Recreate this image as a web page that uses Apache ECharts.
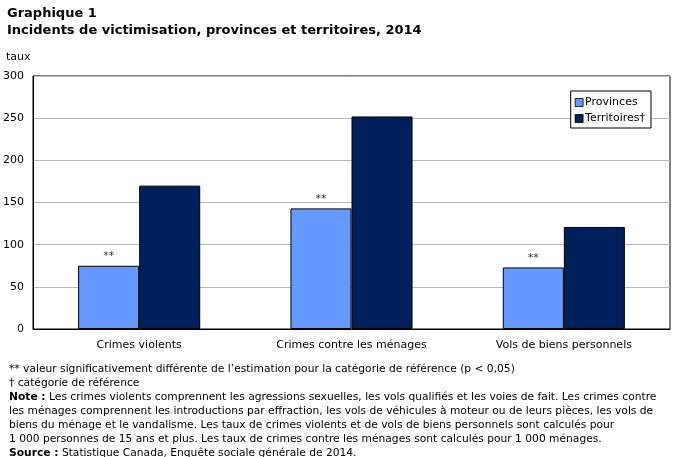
<!DOCTYPE html>
<html>
<head>
<meta charset="utf-8">
<script src="https://cdn.jsdelivr.net/npm/echarts@6/dist/echarts.min.js"></script>
<style>
  html, body { margin: 0; padding: 0; background: #fff; }
  #chart { width: 676px; height: 457px; }
</style>
</head>
<body>
<div id="chart"></div>
<script>
var categories = ['Crimes violents', 'Crimes contre les ménages', 'Vols de biens personnels'];
var provinces = [75, 143, 73];
var territoires = [170, 252, 121];
var yTicks = [0, 50, 100, 150, 200, 250, 300];

var chartDom = document.getElementById('chart');
var myChart = echarts.init(chartDom);
var option;

var fontMain = 'Verdana, "DejaVu Sans", sans-serif';

var notes = [
  '** valeur significativement différente de l\u2019estimation pour la catégorie de référence (p < 0,05)',
  '\u2020 catégorie de référence',
  '{b|Note :} Les crimes violents comprennent les agressions sexuelles, les vols qualifiés et les voies de fait. Les crimes contre',
  'les ménages comprennent les introductions par effraction, les vols de véhicules à moteur ou de leurs pièces, les vols de',
  'biens du ménage et le vandalisme. Les taux de crimes violents et de vols de biens personnels sont calculés pour',
  '1 000 personnes de 15 ans et plus. Les taux de crimes contre les ménages sont calculés pour 1 000 ménages.',
  '{b|Source :} Statistique Canada, Enquête sociale générale de 2014.'
];

option = {
  animation: false,
  textStyle: { fontFamily: fontMain },
  title: [
    {
      text: 'Graphique 1\nIncidents de victimisation, provinces et territoires, 2014',
      left: 7,
      top: 5,
      padding: 0,
      textStyle: { fontSize: 13, fontWeight: 'bold', color: '#000', lineHeight: 17, fontFamily: fontMain }
    },
    {
      text: 'taux',
      left: 6,
      top: 52,
      padding: 0,
      textStyle: { fontSize: 11, fontWeight: 'normal', color: '#000', fontFamily: fontMain }
    },
    {
      text: notes.join('\n'),
      left: 9,
      top: 362,
      padding: 0,
      textStyle: {
        fontSize: 10.7,
        fontWeight: 'normal',
        color: '#000',
        lineHeight: 14,
        fontFamily: fontMain,
        rich: {
          b: { fontWeight: 'bold', fontSize: 10.7, fontFamily: fontMain, color: '#000' }
        }
      }
    }
  ],
  legend: {
    orient: 'vertical',
    right: 25,
    top: 91,
    padding: [6, 6, 4, 4],
    itemGap: 5,
    itemWidth: 8,
    itemHeight: 8,
    borderColor: '#000',
    borderWidth: 1,
    backgroundColor: '#fff',
    icon: 'rect',
    textStyle: { fontSize: 11, color: '#000', padding: [0, 0, 0, -3], fontFamily: fontMain },
    data: [
      { name: 'Provinces', itemStyle: { borderColor: '#000', borderWidth: 0.8 } },
      { name: 'Territoires\u2020', itemStyle: { borderColor: '#000', borderWidth: 0.8 } }
    ]
  },
  grid: {
    left: 33,
    right: 6,
    top: 76,
    bottom: 128,
    show: true,
    borderColor: '#000',
    borderWidth: 1,
    containLabel: false
  },
  xAxis: {
    type: 'category',
    data: categories,
    axisTick: { show: false },
    axisLine: { lineStyle: { color: '#000', width: 1 } },
    axisLabel: { color: '#000', fontSize: 11, margin: 11, fontFamily: fontMain }
  },
  yAxis: {
    type: 'value',
    min: 0,
    max: 300,
    interval: 50,
    axisLine: { show: true, lineStyle: { color: '#000' } },
    axisTick: { show: false },
    axisLabel: {
      color: '#000',
      fontSize: 11,
      margin: 9,
      fontFamily: fontMain,
      formatter: function (v) { return yTicks.indexOf(v) >= 0 ? String(v) : ''; }
    },
    splitLine: { lineStyle: { color: '#b8b8b8', width: 1 } }
  },
  series: [
    {
      name: 'Provinces',
      type: 'bar',
      barGap: 0,
      barCategoryGap: '42.5%',
      data: provinces,
      itemStyle: { color: '#6699ff', borderColor: '#000', borderWidth: 1 },
      label: {
        show: true,
        position: 'top',
        distance: 4,
        formatter: '**',
        color: '#333',
        fontSize: 11,
        fontFamily: fontMain
      }
    },
    {
      name: 'Territoires\u2020',
      type: 'bar',
      data: territoires,
      itemStyle: { color: '#00205b', borderColor: '#000', borderWidth: 1 }
    }
  ]
};

option && myChart.setOption(option);
</script>
</body>
</html>
